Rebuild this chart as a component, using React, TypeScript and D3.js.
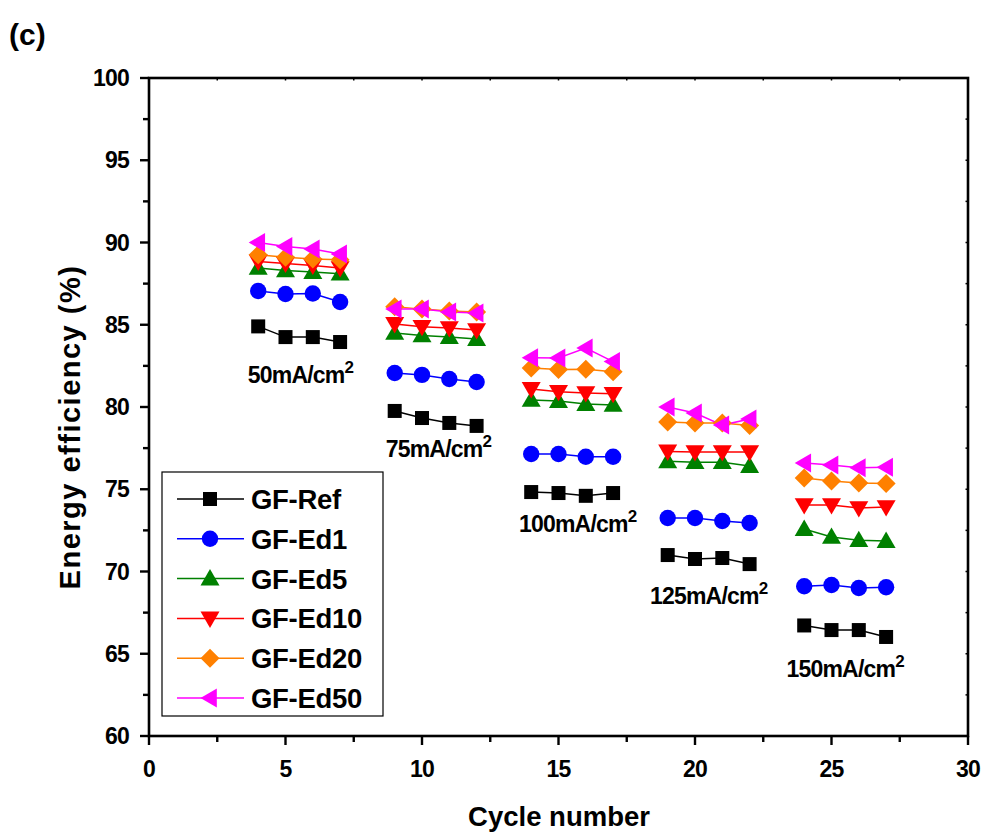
import React from "react";
import * as d3 from "d3";

const cycles = [[4, 5, 6, 7], [9, 10, 11, 12], [14, 15, 16, 17], [19, 20, 21, 22], [24, 25, 26, 27]];
const seriesNames = ["GF-Ref", "GF-Ed1", "GF-Ed5", "GF-Ed10", "GF-Ed20", "GF-Ed50"];
const seriesColors = ["#000000", "#0000ff", "#008000", "#ff0000", "#ff8000", "#ff00ff"];
const seriesShapes = ["square", "circle", "up", "down", "diamond", "left"];

const ref = [[84.9, 84.25, 84.25, 83.95], [79.76, 79.33, 79.03, 78.85], [74.83, 74.77, 74.6, 74.77], [71.0, 70.76, 70.82, 70.45], [66.72, 66.44, 66.44, 66.02]];
const ed1 = [[87.05, 86.87, 86.9, 86.38], [82.07, 81.95, 81.7, 81.52], [77.14, 77.14, 76.98, 76.98], [73.25, 73.25, 73.07, 72.95], [69.1, 69.18, 69.0, 69.04]];
const ed5 = [[88.45, 88.3, 88.2, 88.1], [84.5, 84.35, 84.25, 84.13], [80.43, 80.36, 80.18, 80.12], [76.7, 76.64, 76.64, 76.41], [72.58, 72.1, 71.9, 71.85]];
const ed10 = [[88.85, 88.72, 88.6, 88.45], [85.05, 84.88, 84.8, 84.68], [81.1, 80.92, 80.85, 80.8], [77.3, 77.26, 77.26, 77.26], [74.04, 74.04, 73.86, 73.92]];
const ed20 = [[89.25, 89.1, 89.0, 88.95], [86.1, 85.95, 85.84, 85.78], [82.37, 82.28, 82.3, 82.15], [79.09, 79.03, 79.03, 78.88], [75.68, 75.5, 75.38, 75.35]];
const ed50 = [[90.0, 89.75, 89.6, 89.3], [85.95, 85.95, 85.78, 85.72], [83.0, 82.98, 83.58, 82.76], [80.0, 79.63, 78.9, 79.27], [76.6, 76.47, 76.3, 76.33]];
const allSeries = [ref, ed1, ed5, ed10, ed20, ed50];

const currentLabels = ["50", "75", "100", "125", "150"];
const labelX = [5.55, 10.6, 15.7, 20.5, 25.5];
const labelY = [81.46, 76.96, 72.4, 68.02, 63.59];

const xTicks = [0, 5, 10, 15, 20, 25, 30];
const yTicks = [60, 65, 70, 75, 80, 85, 90, 95, 100];

const W = 982, H = 834;
const left = 149, right = 968, top = 78, bottom = 736;
const x = d3.scaleLinear().domain([0, 30]).range([left, right]);
const y = d3.scaleLinear().domain([60, 100]).range([bottom, top]);

function Marker({ shape, cx, cy, color, s = 1 }: { shape: string; cx: number; cy: number; color: string; s?: number }) {
  if (shape === "square") return <rect x={cx - 7 * s} y={cy - 7 * s} width={14 * s} height={14 * s} fill={color} />;
  if (shape === "circle") return <circle cx={cx} cy={cy} r={8.2 * s} fill={color} />;
  const r = 9.5 * s;
  let pts: [number, number][] = [];
  if (shape === "up") pts = [[0, -r], [r, r * 0.72], [-r, r * 0.72]];
  if (shape === "down") pts = [[0, r], [r, -r * 0.72], [-r, -r * 0.72]];
  if (shape === "left") pts = [[-r, 0], [r * 0.72, -r], [r * 0.72, r]];
  if (shape === "diamond") pts = [[0, -r], [r, 0], [0, r], [-r, 0]];
  return <polygon points={pts.map(([a, b]) => `${cx + a},${cy + b}`).join(" ")} fill={color} />;
}

export default function App() {
  const font = "'Liberation Sans', Arial, sans-serif";
  const line = d3.line<[number, number]>().x((d) => x(d[0])).y((d) => y(d[1]));
  const minorX = d3.range(0, 30.01, 2.5);
  const minorY = d3.range(60, 100.01, 2.5);
  return (
    <svg width={W} height={H} style={{ display: "block", position: "absolute", left: 0, top: 0 }} fontFamily={font}>
      <rect width={W} height={H} fill="#fff" />
      <text x={9} y={45} fontSize={30} fontWeight="bold">(c)</text>
      <rect x={left} y={top} width={right - left} height={bottom - top} fill="none" stroke="#000" strokeWidth={2.6} />
      {minorX.map((v) => {
        const major = Math.abs(v % 5) < 1e-6;
        return <line key={"bx" + v} x1={x(v)} x2={x(v)} y1={bottom} y2={bottom + (major ? 9 : 6)} stroke="#000" strokeWidth={2.4} />;
      })}
      {minorX.map((v) => <line key={"tx" + v} x1={x(v)} x2={x(v)} y1={top} y2={top + 2.5} stroke="#000" strokeWidth={1.5} />)}
      {minorY.map((v) => {
        const major = Math.abs(v % 5) < 1e-6;
        return <line key={"ly" + v} x1={left} x2={left - (major ? 9 : 6)} y1={y(v)} y2={y(v)} stroke="#000" strokeWidth={2.4} />;
      })}
      {minorY.map((v) => <line key={"ry" + v} x1={right} x2={right - 2.5} y1={y(v)} y2={y(v)} stroke="#000" strokeWidth={1.5} />)}
      {xTicks.map((v) => (
        <text key={"xl" + v} x={x(v)} y={777} fontSize={23} fontWeight="bold" textAnchor="middle" letterSpacing={-0.8}>{v}</text>
      ))}
      {yTicks.map((v) => (
        <text key={"yl" + v} x={left - 20} y={y(v) + 8} fontSize={23} fontWeight="bold" textAnchor="end" letterSpacing={-0.8}>{v}</text>
      ))}
      <text x={559} y={826} fontSize={27.5} fontWeight="bold" textAnchor="middle">Cycle number</text>
      <text transform={`translate(80,427) rotate(-90)`} fontSize={29} fontWeight="bold" textAnchor="middle" letterSpacing={1.5}>Energy efficiency (%)</text>
      {allSeries.map((ser, si) => (
        <g key={"s" + si}>
          {ser.map((grp, gi) => {
            const pts = grp.map((v, k) => [cycles[gi][k], v] as [number, number]);
            return <path key={"l" + gi} d={line(pts) || ""} fill="none" stroke={seriesColors[si]} strokeWidth={1.5} />;
          })}
        </g>
      ))}
      {allSeries.map((ser, si) => (
        <g key={"m" + si}>
          {ser.map((grp, gi) =>
            grp.map((v, k) => (
              <Marker key={gi + "-" + k} shape={seriesShapes[si]} cx={x(cycles[gi][k])} cy={y(v)} color={seriesColors[si]} />
            ))
          )}
        </g>
      ))}
      {currentLabels.map((c, i) => (
        <text key={"c" + i} x={x(labelX[i])} y={y(labelY[i])} fontSize={23} fontWeight="bold" textAnchor="middle" letterSpacing={-0.8}>
          {c}mA/cm<tspan dy={-10} fontSize={17}>2</tspan>
        </text>
      ))}
      <rect x={162} y={472} width={221} height={244} fill="#fff" stroke="#000" strokeWidth={1.2} />
      {seriesNames.map((n, i) => {
        const ly = 499 + i * 39.8;
        return (
          <g key={"lg" + i}>
            <line x1={177} x2={244} y1={ly} y2={ly} stroke={seriesColors[i]} strokeWidth={1.5} />
            <Marker shape={seriesShapes[i]} cx={210} cy={ly} color={seriesColors[i]} />
            <text x={251} y={ly + 10} fontSize={27.5} fontWeight="bold" letterSpacing={-0.3}>{n}</text>
          </g>
        );
      })}
    </svg>
  );
}
